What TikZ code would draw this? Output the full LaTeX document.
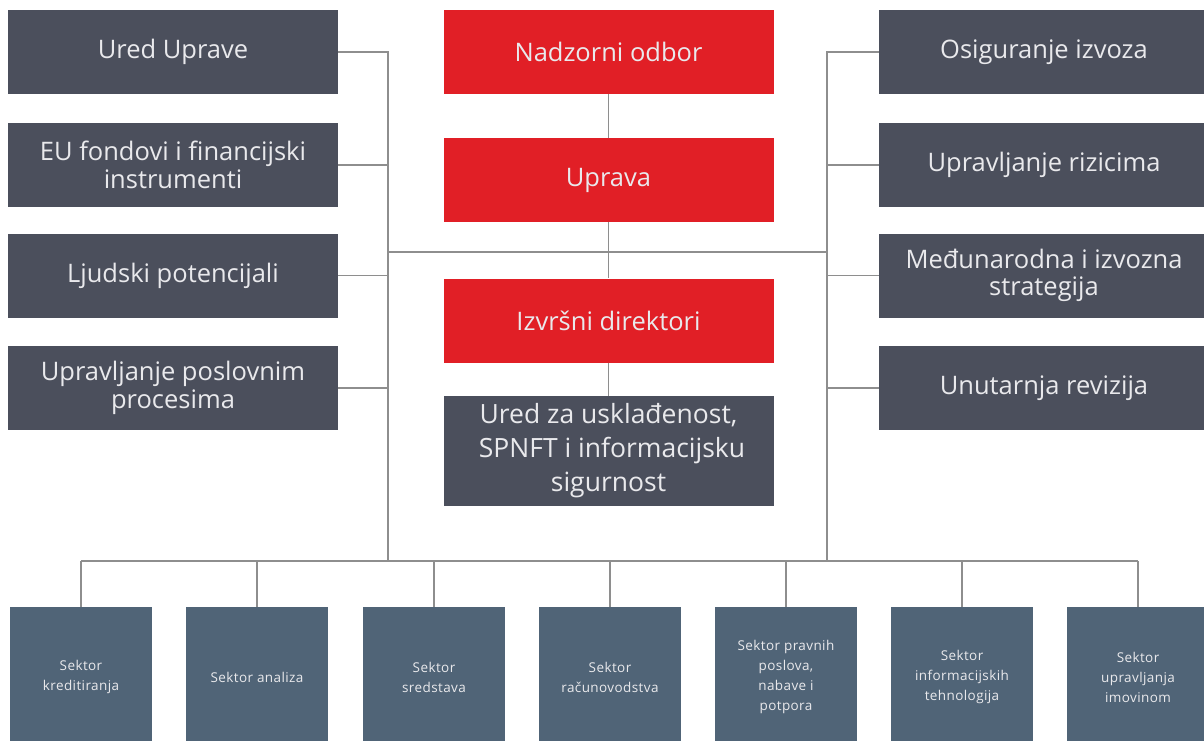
\documentclass[tikz,border=0pt]{standalone}
\usepackage{fontspec}
\setmainfont{Open Sans}
\newfontfamily\smallsecfont{Open Sans}[LetterSpace=3]
\definecolor{redbox}{HTML}{E11F26}
\definecolor{darkbox}{HTML}{4B4F5C}
\definecolor{slatebox}{HTML}{506477}
\definecolor{conncol}{HTML}{8E8E8E}
\definecolor{txtcol}{HTML}{E9E9EC}
\begin{document}
\begin{tikzpicture}[x=1pt,y=-1pt,
  mainbox/.style={rectangle, inner sep=0pt, minimum width=330pt, minimum height=84pt, align=center, text=txtcol, font=\fontsize{25.5}{27.5}\selectfont},
  graybox/.style={mainbox, fill=darkbox},
  redb/.style={mainbox, fill=redbox},
  secbox/.style={rectangle, inner sep=0pt, minimum width=142pt, minimum height=140pt, align=center, fill=slatebox, text=txtcol, font=\smallsecfont\fontsize{13.5}{20}\selectfont},
  conn/.style={draw=conncol, line width=1.6pt}]
\useasboundingbox (0,0) rectangle (1204,740);
\fill[white] (0,0) rectangle (1204,740);
% coordinates of the trunk lines
\coordinate (LT) at (388,52);
\coordinate (LB) at (388,561);
\coordinate (RT) at (827,52);
\coordinate (RB) at (827,561);
\coordinate (HL) at (388,252);
\coordinate (HR) at (827,252);
% left column
\node[graybox] (l1) at (173,52) {Ured Uprave};
\node[graybox] (l2) at (173,165) {EU fondovi i financijski\\instrumenti};
\node[graybox] (l3) at (173,275.5) {Ljudski potencijali};
\node[graybox] (l4) at (173,388) {Upravljanje poslovnim\\procesima};
% right column
\node[graybox] (r1) at (1044,52) {Osiguranje izvoza};
\node[graybox] (r2) at (1044,165) {Upravljanje rizicima};
\node[graybox] (r3) at (1044,275.5) {Međunarodna i izvozna\\strategija};
\node[graybox] (r4) at (1044,388) {Unutarnja revizija};
% bottom row
\node[secbox] (b1) at (81,677) {Sektor\\kreditiranja};
\node[secbox] (b2) at (257,677) {Sektor analiza};
\node[secbox] (b3) at (434,677) {Sektor\\sredstava};
\node[secbox] (b4) at (610,677) {Sektor\\računovodstva};
\node[secbox] (b5) at (786,677) {Sektor pravnih\\poslova,\\nabave i\\potpora};
\node[secbox] (b6) at (962,677) {Sektor\\informacijskih\\tehnologija};
\node[secbox] (b7) at (1138,677) {Sektor\\upravljanja\\imovinom};
% connectors
\draw[conn] (l1.east) -- (LT) -- (LB);
\draw[conn] (l2.east) -- (l2.east -| LT);
\draw[conn] (l3.east) -- (l3.east -| LT);
\draw[conn] (l4.east) -- (l4.east -| LT);
\draw[conn] (r1.west) -- (RT) -- (RB);
\draw[conn] (r2.west) -- (r2.west -| RT);
\draw[conn] (r3.west) -- (r3.west -| RT);
\draw[conn] (r4.west) -- (r4.west -| RT);
\draw[conn] (HL) -- (HR);
\draw[conn] (b1.north |- LB) -- (b7.north |- LB);
\foreach \b in {b1,b2,b3,b4,b5,b6,b7} {\draw[conn] (\b.north) -- (\b.north |- LB);}
% centre column
\node[redb] (nad) at (608.5,52) {Nadzorni odbor};
\node[redb] (upr) at (608.5,180) {Uprava};
\node[redb] (izv) at (608.5,320.5) {Izvršni direktori};
\node[graybox, minimum height=110pt, font=\fontsize{26.5}{34}\selectfont] (ured) at (608.5,451) {Ured za usklađenost,\\\hspace*{7pt}SPNFT i informacijsku\\sigurnost};
\draw[conn] (nad) -- (upr);
\draw[conn] (upr) -- (izv);
\draw[conn] (izv) -- (ured);
\end{tikzpicture}
\end{document}
